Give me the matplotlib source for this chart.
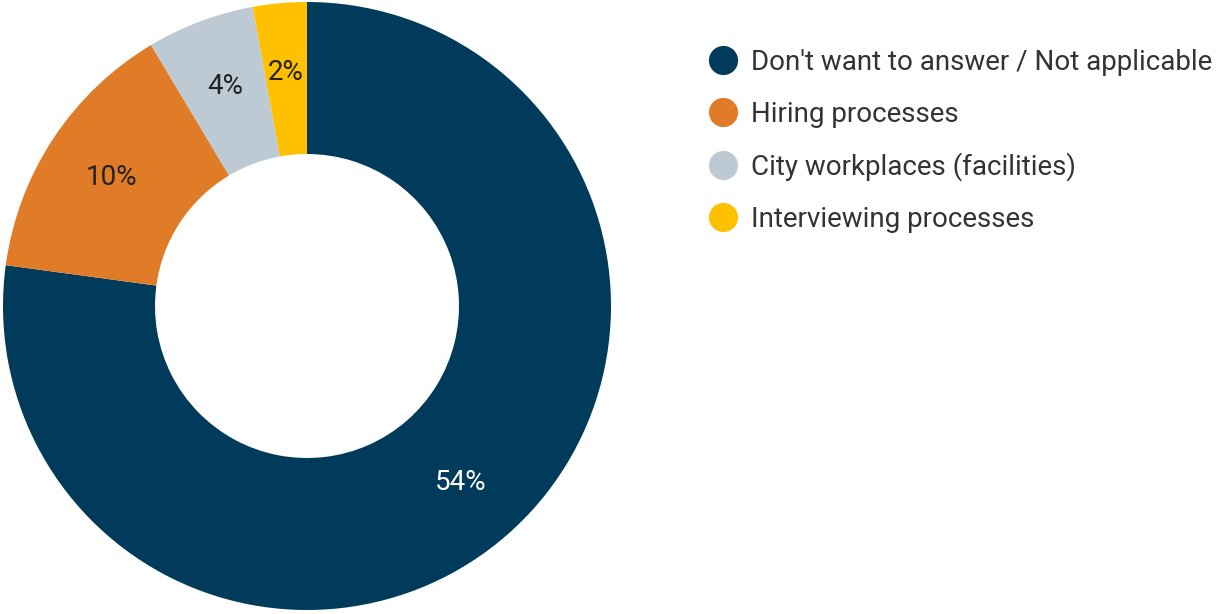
import numpy as np
import matplotlib.pyplot as plt
from matplotlib.lines import Line2D

plt.rcParams['font.family'] = ['Roboto', 'DejaVu Sans']

categories = ["Don't want to answer / Not applicable", "Hiring processes",
              "City workplaces (facilities)", "Interviewing processes"]
values = [54, 10, 4, 2]
colors = ['#003B5C', '#E07B28', '#BDCAD3', '#FFC000']
label_colors = ['white', '#222222', '#222222', '#222222']

fig = plt.figure(figsize=(12.17, 6.14), dpi=100)
ax = fig.add_axes([3 / 1217, 4 / 614, 608 / 1217, 608 / 614])

wedges, texts = ax.pie(values, colors=colors, startangle=90, counterclock=False,
                       wedgeprops=dict(width=0.5, edgecolor='none'))
ax.set_xlim(-1, 1)
ax.set_ylim(-1, 1)
ax.set_aspect('equal')

# percentage labels in the middle of the ring
for w, v, c in zip(wedges, values, label_colors):
    ang = np.deg2rad((w.theta1 + w.theta2) / 2)
    r = 0.77
    ax.text(r * np.cos(ang), r * np.sin(ang), '%d%%' % v, ha='center', va='center',
            fontsize=20, color=c)

handles = [Line2D([], [], marker='o', linestyle='none', markersize=21,
                  markerfacecolor=c, markeredgecolor='none') for c in colors]
fig.legend(handles, categories, loc='upper left', bbox_to_anchor=(695 / 1217, 1 - 38 / 614),
           frameon=False, fontsize=20, labelcolor='#333333', handletextpad=0.4,
           labelspacing=0.89, borderaxespad=0, handlelength=1.2)

fig.savefig('out.png', dpi=100, facecolor='white')
